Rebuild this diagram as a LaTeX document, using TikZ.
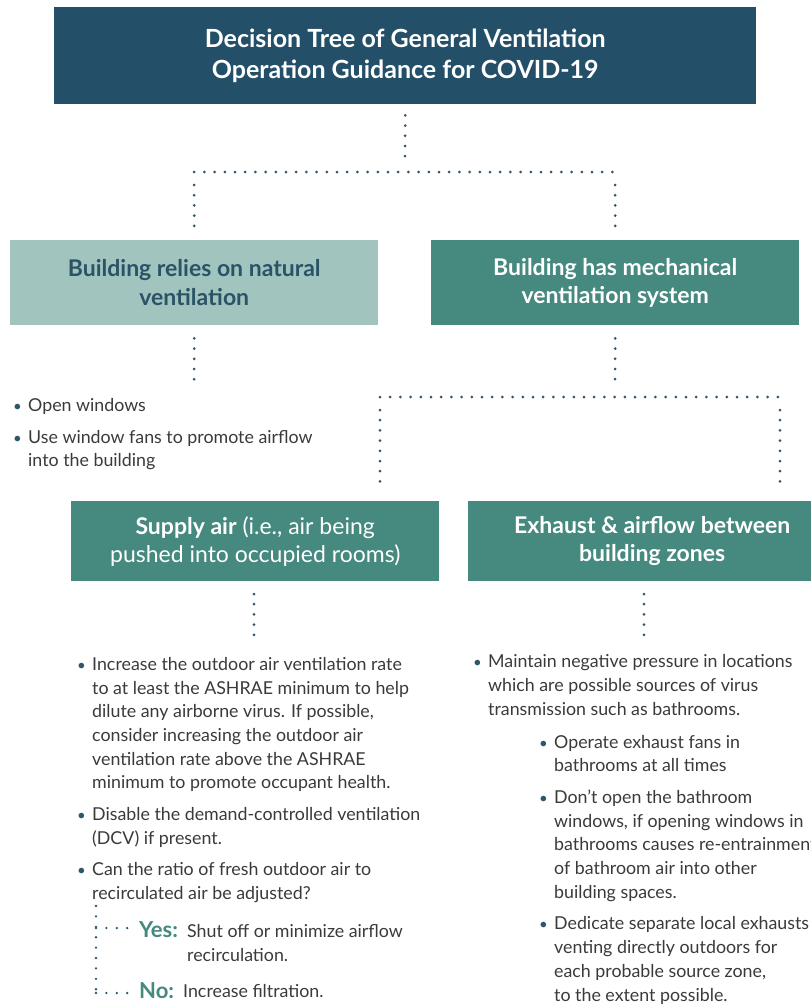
\documentclass[tikz,border=0pt]{standalone}
\usepackage{fontspec}
\setmainfont{Lato}
\definecolor{topc}{HTML}{235068}
\definecolor{lightc}{HTML}{A2C4BF}
\definecolor{midc}{HTML}{45897F}
\definecolor{darkt}{HTML}{2B5366}
\definecolor{dotc}{HTML}{2F5669}
\definecolor{bodyc}{HTML}{3A3A3A}
\newcommand{\bul}{\makebox[15pt][l]{\textcolor{dotc}{\fontsize{15}{15}\selectfont•}}}
\newcommand{\ind}{\hspace*{15pt}}
\begin{document}
\begin{tikzpicture}[x=1pt,y=-1pt,
  box/.style={anchor=north west, inner sep=0pt, align=center},
  dotline/.style={draw=dotc, line width=3pt, line cap=round, dash pattern=on 0pt off 10.2pt},
  smalldots/.style={draw=dotc, line width=2.6pt, line cap=round, dash pattern=on 0pt off 10.4pt},
  body/.style={anchor=base west, inner sep=0pt, align=left, text=bodyc, font=\fontsize{17.8}{23.7}\selectfont},
  ans/.style={anchor=base west, inner sep=0pt, text=midc, font=\fontsize{22}{24}\selectfont\bfseries}
]
\path[use as bounding box] (0,0) rectangle (811,1005);
\clip (0,0) rectangle (811,1005);

% boxes
\node[box, fill=topc, minimum width=702pt, minimum height=97pt, text=white,
  font=\bfseries\fontsize{25}{31}\selectfont] (top) at (54,7)
  {Decision Tree of General Ventilation\\Operation Guidance for COVID-19};
\node[box, fill=lightc, minimum width=368pt, minimum height=85pt, text=darkt,
  font=\bfseries\fontsize{23}{28.5}\selectfont] (nat) at (10,240)
  {Building relies on natural\\ventilation};
\node[box, fill=midc, minimum width=368pt, minimum height=85pt, text=white,
  font=\bfseries\fontsize{23}{28.5}\selectfont] (mech) at (431,240)
  {Building has mechanical\\ventilation system};
\node[box, fill=midc, minimum width=368pt, minimum height=80pt, text=white,
  font=\fontsize{23}{28}\selectfont] (sup) at (71,501)
  {\textbf{Supply air} (i.e., air being\\pushed into occupied rooms)};
\node[box, fill=midc, minimum width=368pt, minimum height=80pt, text=white,
  font=\bfseries\fontsize{23}{28}\selectfont] (exh) at (468,501)
  {Exhaust \& airflow between\\building zones};

% junctions
\coordinate (j1) at (405,172);
\coordinate (j2) at (615,397);

\draw[dotline] ([yshift=-11pt]top.south) -- ([yshift=12pt]j1);
\draw[dotline] (j1 -| nat) -- (j1 -| mech);
\draw[dotline] ([yshift=-13pt]j1 -| nat) -- ([yshift=12pt]nat.north);
\draw[dotline] ([yshift=-13pt]j1 -| mech) -- ([yshift=12pt]mech.north);

\draw[dotline] ([yshift=-13pt]nat.south) -- ([yshift=-58pt]nat.south);
\draw[dotline] ([yshift=-13pt]mech.south) -- ([yshift=14pt]j2);
\coordinate (j2l) at (380,397);
\coordinate (j2r) at (780,397);
\draw[dotline] (j2l) -- (j2r);
\draw[dotline] ([yshift=-13pt]j2l) -- ([yshift=18pt]j2l |- sup.north);
\draw[dotline] ([yshift=-13pt]j2r) -- ([yshift=18pt]j2r |- exh.north);

\coordinate (supd) at (254,581);
\coordinate (exhd) at (644,581);
\draw[dotline] ([yshift=-13pt]supd) -- ([yshift=-56pt]supd);
\draw[dotline] ([yshift=-13pt]exhd) -- ([yshift=-56pt]exhd);

% natural ventilation bullets
\node[body, font=\fontsize{17.8}{23}\selectfont] (natlist) at (13,466)
  {\bul Open windows\\[9pt]
   \bul Use window fans to promote airflow\\
   \ind into the building};

% supply bullets
\node[body] (suplist) at (77,899)
  {\bul Increase the outdoor air ventilation rate\\
   \ind to at least the ASHRAE minimum to help\\
   \ind dilute any airborne virus. If possible,\\
   \ind consider increasing the outdoor air\\
   \ind ventilation rate above the ASHRAE\\
   \ind minimum to promote occupant health.\\[7.8pt]
   \bul Disable the demand-controlled ventilation\\
   \ind (DCV) if present.\\[7.5pt]
   \bul Can the ratio of fresh outdoor air to\\
   \ind recirculated air be adjusted?};

\node[ans] (yes) at (139,937) {Yes:};
\node[body] (yestxt) at (187,961) {Shut off or minimize airflow\\recirculation.};
\node[ans] (no) at (139,998) {No:};
\node[body] (notxt) at (183,997) {Increase filtration.};

\coordinate (bt) at (96,906);
\coordinate (by) at (96,928);
\coordinate (bn) at (96,993);
\draw[smalldots] (bt) -- (bn);
\draw[smalldots] (by) -- ([xshift=-10pt]yes.west |- by);
\draw[smalldots] (bn) -- ([xshift=-10pt]no.west |- bn);

% exhaust bullets
\node[body] (exhlist) at (473,715)
  {\bul Maintain negative pressure in locations\\
   \ind which are possible sources of virus\\
   \ind transmission such as bathrooms.};
\node[body] (exhsub) at (539,1001)
  {\bul Operate exhaust fans in\\
   \ind bathrooms at all times\\[8pt]
   \bul Don’t open the bathroom\\
   \ind windows, if opening windows in\\
   \ind bathrooms causes re-entrainment\\
   \ind of bathroom air into other\\
   \ind building spaces.\\[8pt]
   \bul Dedicate separate local exhausts\\
   \ind venting directly outdoors for\\
   \ind each probable source zone,\\
   \ind to the extent possible.};
\end{tikzpicture}
\end{document}
